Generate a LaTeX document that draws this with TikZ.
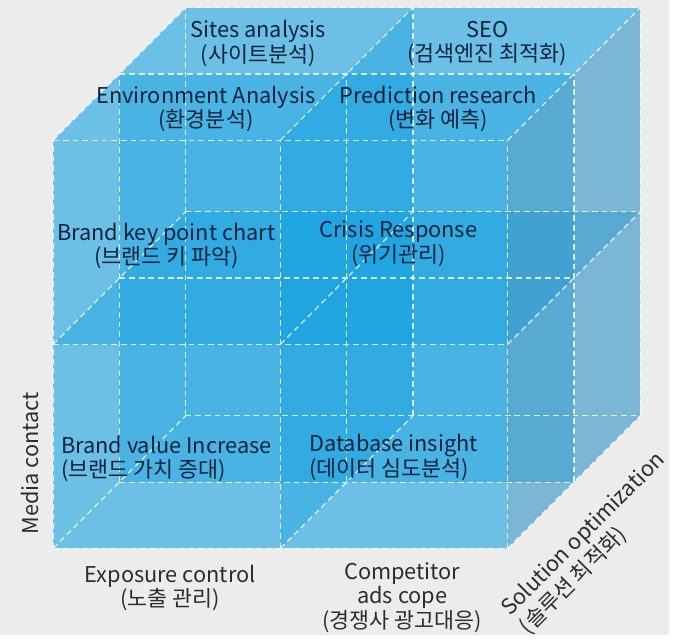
\documentclass[tikz,border=0pt]{standalone}
\usepackage{fontspec}
\setmainfont{Noto Sans CJK KR}
\usepackage{tikz}
\usetikzlibrary{positioning}

\definecolor{bggray}{RGB}{236,236,236}
\definecolor{planeblue}{RGB}{0,155,224}
\definecolor{sideblue}{RGB}{50,128,175}
\definecolor{cellink}{RGB}{15,35,60}
\definecolor{axisink}{RGB}{45,45,45}

\tikzset{
  plane/.style={fill=planeblue, fill opacity=0.32},
  sideplane/.style={fill=sideblue, fill opacity=0.32},
  gridline/.style={draw=white, draw opacity=0.8, line width=1.2pt, dash pattern=on 6pt off 4pt},
  cell/.style={text=cellink, font=\fontsize{22.5}{25}\selectfont, align=center},
  axislabel/.style={text=axisink, font=\fontsize{22.5}{25}\selectfont, align=center}
}

\begin{document}
\begin{tikzpicture}[x=1pt, y=-1pt]
    % Background
    \fill[bggray] (0,0) rectangle (692,657);

    % The cube, 2 x 2 x 2 cells
    \begin{scope}[shift={(55,567)}, x={(235pt,0pt)}, y={(0pt,211pt)}, z={(68.5pt,68.5pt)}]
        % Planes facing the front
        \fill[plane] (0,0,0) -- (2,0,0) -- (2,2,0) -- (0,2,0) -- cycle;
        \fill[plane] (0,0,1) -- (2,0,1) -- (2,2,1) -- (0,2,1) -- cycle;
        \fill[plane] (0,0,2) -- (2,0,2) -- (2,2,2) -- (0,2,2) -- cycle;
        % Horizontal planes
        \fill[plane] (0,0,0) -- (2,0,0) -- (2,0,2) -- (0,0,2) -- cycle;
        \fill[plane] (0,1,0) -- (2,1,0) -- (2,1,2) -- (0,1,2) -- cycle;
        \fill[plane] (0,2,0) -- (2,2,0) -- (2,2,2) -- (0,2,2) -- cycle;
        % Side planes
        \fill[plane] (0,0,0) -- (0,2,0) -- (0,2,2) -- (0,0,2) -- cycle;
        \fill[plane] (1,0,0) -- (1,2,0) -- (1,2,2) -- (1,0,2) -- cycle;
        \fill[sideplane] (2,0,0) -- (2,2,0) -- (2,2,2) -- (2,0,2) -- cycle;

        % Dashed grid lines, left to right
        \draw[gridline] (0,0,0) -- (2,0,0) (0,1,0) -- (2,1,0) (0,2,0) -- (2,2,0);
        \draw[gridline] (0,0,1) -- (2,0,1) (0,1,1) -- (2,1,1) (0,2,1) -- (2,2,1);
        \draw[gridline] (0,0,2) -- (2,0,2) (0,1,2) -- (2,1,2) (0,2,2) -- (2,2,2);
        % bottom to top
        \draw[gridline] (0,0,0) -- (0,2,0) (1,0,0) -- (1,2,0) (2,0,0) -- (2,2,0);
        \draw[gridline] (0,0,1) -- (0,2,1) (1,0,1) -- (1,2,1) (2,0,1) -- (2,2,1);
        \draw[gridline] (0,0,2) -- (0,2,2) (1,0,2) -- (1,2,2) (2,0,2) -- (2,2,2);
        % front to back
        \draw[gridline] (0,0,0) -- (0,0,2) (1,0,0) -- (1,0,2) (2,0,0) -- (2,0,2);
        \draw[gridline] (0,1,0) -- (0,1,2) (1,1,0) -- (1,1,2) (2,1,0) -- (2,1,2);
        \draw[gridline] (0,2,0) -- (0,2,2) (1,2,0) -- (1,2,2) (2,2,0) -- (2,2,2);
    \end{scope}

    % Labels of the cells
    \node[cell] (sites) at (267,45) {Sites analysis\\(사이트분석)};
    \node[cell] (seo) at (504,45) {SEO\\(검색엔진 최적화)};
    \node[cell] (envir) at (213,113) {Environment Analysis\\(환경분석)};
    \node[cell] (predict) at (453,113) {Prediction research\\(변화 예측)};
    \node[cell] (brandkey) at (172,254) {Brand key point chart\\(브랜드 키 파악)};
    \node[cell] (crisis) at (412,252) {Crisis Response\\(위기관리)};
    \node[cell, align=left] (brandval) at (172,475) {Brand value Increase\\(브랜드 가치 증대)};
    \node[cell, align=left] (database) at (407,473) {Database insight\\(데이터 심도분석)};

    % Labels of the axes
    \node[axislabel] (exposure) at (176,608) {Exposure control\\(노출 관리)};
    \node[axislabel] (competitor) at (416,618) {Competitor\\ads cope\\(경쟁사 광고대응)};
    \node[axislabel, rotate=90] (media) at (31,479) {Media contact};
    \node[axislabel, align=left, rotate=45, font=\fontsize{22.5}{27}\selectfont] (solution) at (613,562) {Solution optimization\\(솔루션 최적화)};
\end{tikzpicture}
\end{document}
